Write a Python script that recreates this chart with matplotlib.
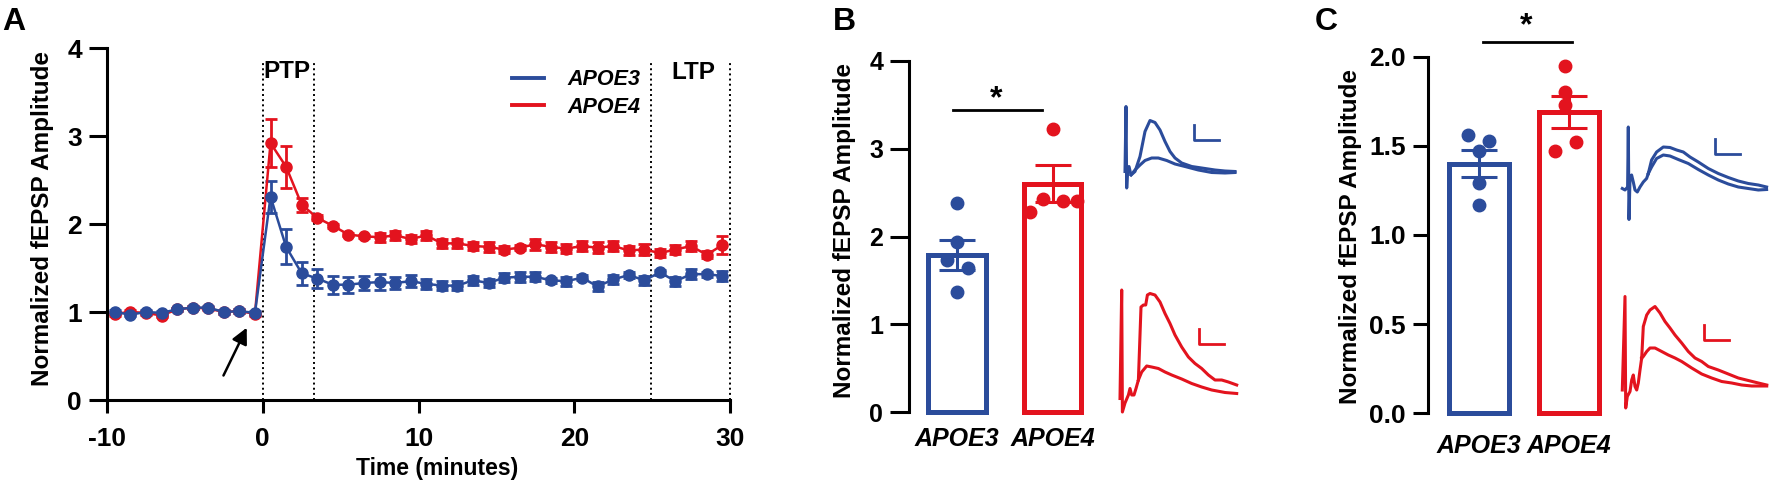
import matplotlib
matplotlib.use('Agg')
import matplotlib.pyplot as plt
from matplotlib.lines import Line2D

plt.rcParams['font.family'] = ['Liberation Sans', 'DejaVu Sans']
plt.rcParams['font.weight'] = 'bold'
plt.rcParams['axes.unicode_minus'] = False

BLUE = '#2b4c9b'
RED = '#e3131e'

# ---------------- panel A: time course (1-min bins) ----------------
time_min = [-9.5, -8.5, -7.5, -6.5, -5.5, -4.5, -3.5, -2.5, -1.5, -0.5,
            0.5, 1.5, 2.5, 3.5, 4.5, 5.5, 6.5, 7.5, 8.5, 9.5,
            10.5, 11.5, 12.5, 13.5, 14.5, 15.5, 16.5, 17.5, 18.5, 19.5,
            20.5, 21.5, 22.5, 23.5, 24.5, 25.5, 26.5, 27.5, 28.5, 29.5]
apoe3_mean = [1.00, 0.97, 1.00, 0.99, 1.03, 1.05, 1.05, 1.00, 1.01, 0.99,
              2.31, 1.74, 1.44, 1.38, 1.31, 1.31, 1.33, 1.34, 1.33, 1.35,
              1.32, 1.30, 1.30, 1.36, 1.33, 1.39, 1.40, 1.40, 1.36, 1.35,
              1.39, 1.29, 1.37, 1.42, 1.36, 1.45, 1.35, 1.43, 1.43, 1.41]
apoe3_sem = [0.02, 0.02, 0.02, 0.02, 0.02, 0.02, 0.02, 0.02, 0.02, 0.02,
             0.18, 0.20, 0.13, 0.11, 0.10, 0.09, 0.08, 0.09, 0.07, 0.07,
             0.06, 0.05, 0.05, 0.05, 0.05, 0.05, 0.06, 0.05, 0.03, 0.05,
             0.03, 0.05, 0.05, 0.03, 0.05, 0.03, 0.05, 0.06, 0.03, 0.06]
apoe4_mean = [0.98, 1.00, 0.99, 0.96, 1.03, 1.05, 1.04, 1.00, 1.01, 0.98,
              2.92, 2.65, 2.22, 2.07, 1.98, 1.88, 1.86, 1.85, 1.87, 1.83,
              1.87, 1.78, 1.78, 1.75, 1.74, 1.71, 1.73, 1.77, 1.74, 1.72,
              1.75, 1.73, 1.75, 1.70, 1.71, 1.67, 1.71, 1.75, 1.65, 1.76]
apoe4_sem = [0.02, 0.02, 0.02, 0.02, 0.02, 0.02, 0.02, 0.02, 0.02, 0.02,
             0.27, 0.24, 0.08, 0.03, 0.02, 0.02, 0.02, 0.05, 0.05, 0.05,
             0.05, 0.05, 0.05, 0.05, 0.06, 0.04, 0.03, 0.06, 0.06, 0.05,
             0.06, 0.06, 0.06, 0.05, 0.06, 0.05, 0.05, 0.06, 0.04, 0.10]
period_edges = [0, 3.3, 24.9, 30]

# ---------------- panels B (PTP) and C (LTP) ----------------
groups = ['APOE3', 'APOE4']
ptp_apoe3 = [2.38, 1.94, 1.73, 1.64, 1.37]
ptp_apoe4 = [3.23, 2.28, 2.43, 2.40, 2.41]
ptp_mean = [1.79, 2.60]
ptp_sem = [0.17, 0.21]
ltp_apoe3 = [1.56, 1.53, 1.47, 1.29, 1.17]
ltp_apoe4 = [1.95, 1.80, 1.73, 1.47, 1.52]
ltp_mean = [1.40, 1.69]
ltp_sem = [0.075, 0.09]

# dot jitter (x offset from bar centre)
ptp_jit3 = [0, 0, -0.11, 0.11, 0]
ptp_jit4 = [0, -0.24, -0.105, 0.105, 0.26]
ltp_jit3 = [-0.12, 0.11, 0, 0, 0]
ltp_jit4 = [-0.04, -0.04, -0.04, -0.16, 0.08]

# ---------------- example traces (ms, mV) ----------------
B3_big_t = [-0.1, 0, 0.07, 0.17, 0.3, 0.5, 0.9, 1.4, 1.9, 2.4, 2.9, 3.4, 3.9, 4.4, 4.9,
            5.57, 6.57, 7.57, 8.9, 9.9, 10.9]
B3_big_v = [0, 1.3, -0.33, 0.07, 0.1, -0.07, 0, 0.3, 0.8, 1.02, 0.98, 0.83, 0.6, 0.4, 0.27,
            0.17, 0.1, 0.07, 0.03, 0.01, 0]
B3_small_t = [0.5, 0.9, 1.4, 1.9, 2.57, 3.23, 4.07, 4.9, 5.9, 7.23, 8.57, 9.9, 10.9]
B3_small_v = [-0.07, 0.03, 0.13, 0.22, 0.27, 0.27, 0.22, 0.15, 0.1, 0.03, -0.02, -0.03, -0.02]

B4_big_t = [-0.17, 0, 0.07, 0.33, 0.67, 0.83, 1.0, 1.23, 1.43, 1.67, 1.93, 2.17, 2.4, 2.57,
            2.83, 3.33, 3.83, 4.33, 4.83, 5.33, 6.0, 6.67, 7.33, 8.0, 8.67, 9.33, 10.0, 10.67, 11.5]
B4_big_v = [-0.1, 2.07, -0.37, -0.19, -0.03, 0.1, -0.03, -0.03, 0.1, 0.27, 1.73, 1.77, 1.77, 1.97,
            2.0, 1.97, 1.83, 1.6, 1.4, 1.17, 0.93, 0.73, 0.6, 0.5, 0.37, 0.27, 0.27, 0.23, 0.17]
B4_small_t = [1.67, 2.0, 2.5, 3.0, 3.67, 4.33, 5.0, 6.0, 7.0, 8.0, 9.0, 10.33, 11.5]
B4_small_v = [0.27, 0.43, 0.55, 0.53, 0.5, 0.43, 0.37, 0.29, 0.2, 0.13, 0.07, 0.02, 0]

C3_pre_t = [-0.6, -0.33, -0.07, 0, 0.07, 0.17, 0.33, 0.5, 0.67, 0.9, 1.17, 1.5, 1.83, 2.0]
C3_pre_v = [0, -0.03, 0.03, 1.23, -0.62, 0.2, 0.27, 0.13, -0.03, -0.07, 0.03, 0.13, 0.2, 0.3]
C3_big_t = [2.0, 2.33, 2.83, 3.5, 4.17, 4.83, 5.5, 6.17, 7.0, 8.0, 9.0, 10.0, 11.0, 12.0, 13.0, 13.83]
C3_big_v = [0.3, 0.57, 0.73, 0.83, 0.82, 0.77, 0.73, 0.63, 0.53, 0.4, 0.3, 0.22, 0.15, 0.1, 0.07, 0.03]
C3_small_t = [2.0, 2.33, 2.83, 3.5, 4.17, 5.0, 6.0, 7.0, 8.0, 9.0, 10.0, 11.0, 12.0, 13.0, 13.83]
C3_small_v = [0.3, 0.43, 0.6, 0.67, 0.65, 0.58, 0.5, 0.38, 0.27, 0.17, 0.09, 0.03, 0, -0.03, -0.02]

C4_pre_t = [-0.27, 0, 0.07, 0.23, 0.5, 0.67, 0.83, 1.0, 1.17, 1.33, 1.5, 1.67]
C4_pre_v = [-0.07, 1.8, -0.43, -0.2, -0.1, 0.13, 0.23, 0, -0.07, 0.07, 0.33, 0.57]
C4_big_t = [1.67, 1.83, 2.17, 2.5, 3.0, 3.5, 4.0, 4.5, 5.0, 5.67, 6.33, 7.0, 7.67, 8.33, 9.33,
            10.33, 11.33, 12.33, 13.33, 14.17]
C4_big_v = [0.57, 1.2, 1.43, 1.53, 1.6, 1.47, 1.3, 1.17, 1.03, 0.87, 0.7, 0.57, 0.5, 0.4, 0.33,
            0.25, 0.17, 0.12, 0.07, 0.03]
C4_small_t = [1.67, 1.83, 2.17, 2.5, 3.0, 3.67, 4.33, 5.0, 5.67, 6.67, 7.67, 8.67, 9.67, 10.67,
              11.67, 12.67, 14.17]
C4_small_v = [0.57, 0.6, 0.7, 0.77, 0.77, 0.7, 0.63, 0.57, 0.5, 0.37, 0.25, 0.17, 0.1, 0.07,
              0.03, 0.01, 0.01]

scalebar_ms = 2.5
scalebar_mv = 0.3

W, H = 1769, 482
fig = plt.figure(figsize=(W / 100, H / 100), dpi=100)


def box(x0, y0, x1, y1):
    # pixel box (top-left origin) -> figure fraction rect
    return [x0 / W, 1 - y1 / H, (x1 - x0) / W, (y1 - y0) / H]


def style_axis(ax, ticklen, labelsize=18):
    for s in ['top', 'right']:
        ax.spines[s].set_visible(False)
    for s in ['left', 'bottom']:
        ax.spines[s].set_linewidth(2.2)
    ax.tick_params(axis='y', direction='out', length=ticklen, width=2.2,
                   labelsize=labelsize, pad=5)


# ---------------- A ----------------
axA = fig.add_axes(box(107, 48, 730, 400))
style_axis(axA, 13, 19)
axA.tick_params(axis='x', direction='out', length=9.5, width=2.2, labelsize=19, pad=10)
for x in period_edges:
    axA.plot([x, x], [0, 3.83], ls=':', color='black', lw=1.4, clip_on=False)
axA.errorbar(time_min, apoe4_mean, yerr=apoe4_sem, fmt='-o', color=RED, ms=8,
             lw=1.8, elinewidth=2, capsize=4.5, capthick=2, clip_on=False)
axA.errorbar(time_min, apoe3_mean, yerr=apoe3_sem, fmt='-o', color=BLUE, ms=8,
             lw=1.8, elinewidth=2, capsize=4.5, capthick=2, clip_on=False)
axA.set_xlim(-10, 30)
axA.set_ylim(0, 4)
axA.set_xticks([-10, 0, 10, 20, 30])
axA.set_yticks([0, 1, 2, 3, 4])
axA.text(1.52, 3.73, 'PTP', ha='center', va='center', fontsize=17.5)
axA.text(27.66, 3.72, 'LTP', ha='center', va='center', fontsize=17.5)
axA.annotate('', xy=(-0.95, 0.85), xytext=(-2.6, 0.25),
             arrowprops=dict(arrowstyle='-|>', color='black', lw=1.8, mutation_scale=24))
handles = [Line2D([], [], color=BLUE, lw=2.8), Line2D([], [], color=RED, lw=2.8)]
axA.legend(handles, groups, loc='upper left', bbox_to_anchor=(0.65, 0.94), frameon=False,
           borderaxespad=0, borderpad=0, handlelength=1.5, handletextpad=1.1,
           labelspacing=0.3, prop=dict(size=15.5, style='italic', weight='bold'))
fig.text(437 / W, 1 - 469 / H, 'Time (minutes)', ha='center', va='center', fontsize=16.5)
fig.text(43 / W, 1 - 219 / H, 'Normalized fEPSP Amplitude', rotation=90,
         ha='center', va='center', fontsize=17.5)
fig.text(2 / W, 1 - 7 / H, 'A', ha='left', va='top', fontsize=23)


def bar_panel(ax, means, sems, pts3, pts4, jit3, jit4, width):
    for i, (m, s, c) in enumerate(zip(means, sems, [BLUE, RED])):
        ax.bar(i, m, width=width, facecolor='white', edgecolor=c, linewidth=3.6,
               clip_on=False, zorder=2)
        ax.errorbar(i, m, yerr=s, color=c, elinewidth=2.2, capsize=13, capthick=2.2,
                    zorder=3)
    ax.plot([0 + j for j in jit3], pts3, 'o', color=BLUE, ms=9, zorder=4, clip_on=False)
    ax.plot([1 + j for j in jit4], pts4, 'o', color=RED, ms=9, zorder=4, clip_on=False)
    ax.spines['bottom'].set_visible(False)
    ax.set_xticks([0, 1])
    ax.set_xticklabels(groups, fontsize=18, fontstyle='italic')


# ---------------- B ----------------
axB = fig.add_axes(box(909, 61, 1100, 412))
style_axis(axB, 13.5, 18)
bar_panel(axB, ptp_mean, ptp_sem, ptp_apoe3, ptp_apoe4, ptp_jit3, ptp_jit4, 0.6)
axB.tick_params(axis='x', length=0, pad=11)
axB.set_xlim(-0.503, 1.497)
axB.set_ylim(0, 4)
axB.set_yticks([0, 1, 2, 3, 4])
axB.plot([-0.04, 0.89], [3.44, 3.44], color='black', lw=2)
axB.text(0.41, 3.56, '*', ha='center', va='center', fontsize=23)
fig.text(844 / W, 1 - 231 / H, 'Normalized fEPSP Amplitude', rotation=90,
         ha='center', va='center', fontsize=17.5)
fig.text(833 / W, 1 - 7 / H, 'B', ha='left', va='top', fontsize=23)

# ---------------- C ----------------
axC = fig.add_axes(box(1428, 56.7, 1615, 413.3))
style_axis(axC, 11, 19)
bar_panel(axC, ltp_mean, ltp_sem, ltp_apoe3, ltp_apoe4, ltp_jit3, ltp_jit4, 0.67)
axC.tick_params(axis='x', length=0, pad=15)
axC.set_xlim(-0.567, 1.51)
axC.set_ylim(0, 2)
axC.set_yticks([0, 0.5, 1.0, 1.5, 2.0])
axC.set_yticklabels(['0.0', '0.5', '1.0', '1.5', '2.0'])
axC.plot([0.04, 1.03], [2.08, 2.08], color='black', lw=2, clip_on=False)
axC.text(0.52, 2.17, '*', ha='center', va='center', fontsize=23)
fig.text(1350 / W, 1 - 236.5 / H, 'Normalized fEPSP Amplitude', rotation=90,
         ha='center', va='center', fontsize=17.5)
fig.text(1315 / W, 1 - 7 / H, 'C', ha='left', va='top', fontsize=23)


# ---------------- traces ----------------
def trace_axes(rect, xlim, ylim, color, lines, bar_at):
    ax = fig.add_axes(rect)
    ax.set_axis_off()
    for t, v in lines:
        ax.plot(t, v, color=color, lw=2.2, solid_joinstyle='round')
    x0, y0 = bar_at
    ax.plot([x0, x0, x0 + scalebar_ms], [y0 + scalebar_mv, y0, y0], color=color, lw=2)
    ax.set_xlim(*xlim)
    ax.set_ylim(*ylim)
    return ax


trace_axes(box(1115, 100, 1245, 195), (-1.1, 11.9), (-0.47, 1.43), BLUE,
           [(B3_big_t, B3_big_v), (B3_small_t, B3_small_v)], (6.77, 0.63))
trace_axes(box(1115, 280, 1245, 420), (-0.67, 12.33), (-0.53, 2.27), RED,
           [(B4_big_t, B4_big_v), (B4_small_t, B4_small_v)], (7.73, 0.99))
trace_axes(box(1615, 120, 1769, 225), (-1.33, 14.07), (-0.73, 1.37), BLUE,
           [(C3_pre_t, C3_pre_v), (C3_big_t, C3_big_v), (C3_small_t, C3_small_v)], (8.67, 0.7))
trace_axes(box(1615, 290, 1769, 415), (-1.0, 14.4), (-0.57, 1.93), RED,
           [(C4_pre_t, C4_pre_v), (C4_big_t, C4_big_v), (C4_small_t, C4_small_v)], (7.93, 0.93))

fig.savefig('out.png', dpi=100)
